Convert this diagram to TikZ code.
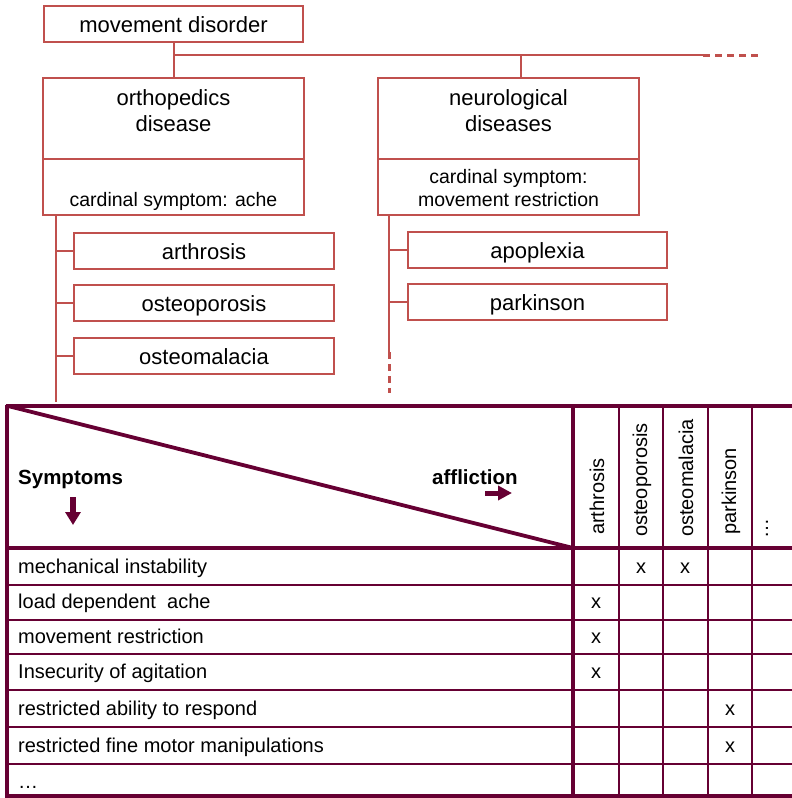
\documentclass[tikz,border=0pt]{standalone}
\usepackage{fontspec}
\setmainfont{Liberation Sans}
\usetikzlibrary{arrows.meta}
\definecolor{treered}{RGB}{192,80,77}
\definecolor{maroon}{RGB}{102,0,51}
\begin{document}
\begin{tikzpicture}[x=1pt,y=-1pt,
  box/.style={draw=treered, line width=2pt, minimum width=#1, minimum height=36pt, inner sep=0pt, text height=17.5pt, text depth=0pt, font=\fontsize{22}{26}\selectfont},
  box/.default=260pt,
  frame/.style={draw=treered, line width=2pt, minimum width=261pt, minimum height=#1, inner sep=0pt},
  tline/.style={draw=treered, line width=2pt},
  tdash/.style={draw=treered, line width=3pt, dash pattern=on 7pt off 5pt},
  big/.style={font=\fontsize{22}{26}\selectfont, align=center, inner sep=0pt},
  small/.style={font=\fontsize{19.5}{23}\selectfont, align=center, inner sep=0pt},
  tab/.style={font=\fontsize{20}{24}\selectfont, inner sep=0pt, text height=13pt, text depth=0pt},
  rot/.style={font=\fontsize{20}{24}\selectfont, inner sep=0pt, rotate=90},
  tabbold/.style={font=\fontsize{20.5}{24}\selectfont\bfseries, inner sep=0pt, text height=13.3pt, text depth=0pt},
  thickl/.style={draw=maroon, line width=3.8pt},
  thinl/.style={draw=maroon, line width=2.3pt},
  arr/.style={draw=maroon, line width=6pt, -{Triangle[width=15pt,length=13pt]}}
]
\useasboundingbox (0,0) rectangle (792,798);

% ---------- tree ----------
\node[box=259pt] (md) at (173.5,24) {movement disorder};

\node[frame=81pt] (ortho) at (173.5,118.5) {};
\node[big] (orthot) at (173.5,110.5) {orthopedics\\disease};
\node[frame=56pt] (orthoc) at (173.5,187) {};
\node[small, text height=15pt, text depth=0pt] (orthoct) at (173.5,199) {cardinal symptom: ache};

\node[frame=81pt] (neuro) at (508.5,118.5) {};
\node[big] (neurot) at (508.5,110.5) {neurological\\diseases};
\node[frame=56pt] (neuroc) at (508.5,187) {};
\node[small] (neuroct) at (508.5,188.5) {cardinal symptom:\\movement restriction};

\node[box=260pt] (arth) at (204,251) {arthrosis};
\node[box=260pt] (osp) at (204,303) {osteoporosis};
\node[box=260pt] (osm) at (204,356) {osteomalacia};
\node[box=259pt] (apo) at (537.5,250) {apoplexia};
\node[box=259pt] (park) at (537.5,302) {parkinson};

\coordinate (hj) at (173.5,55);
\coordinate (hn) at (521,55);
\coordinate (hend) at (703,55);
\coordinate (hdash) at (760,55);
\draw[tline] (md.south) -- (ortho.north);
\draw[tline] (hj) -- (hend);
\draw[tdash] (hend) -- (hdash);
\draw[tline] (hn) -- (hn |- neuro.north);

\coordinate (lt) at (56,215);
\coordinate (lb) at (56,402);
\draw[tline] (lt) -- (lb);
\draw[tline] (lt |- arth.west) -- (arth.west);
\draw[tline] (lt |- osp.west) -- (osp.west);
\draw[tline] (lt |- osm.west) -- (osm.west);

\coordinate (rt) at (389,215);
\coordinate (rm) at (389,352);
\coordinate (rb) at (389,393);
\draw[tline] (rt) -- (rm);
\draw[tdash] (rm) -- (rb);
\draw[tline] (rt |- apo.west) -- (apo.west);
\draw[tline] (rt |- park.west) -- (park.west);

% ---------- table ----------
\foreach \y in {585,620,654,690,727,764} \draw[thinl] (7,\y) -- (792,\y);
\foreach \x in {619,663,708,752} \draw[thinl] (\x,406) -- (\x,797);
\draw[thickl] (573,406) -- (573,797);
\draw[thickl] (5.5,406) -- (792,406);
\draw[thickl] (7,548) -- (792,548);
\draw[thickl] (7,796) -- (792,796);
\draw[thickl] (7,404.5) -- (7,798);
\draw[thickl] (8,406) -- (573,548);

\node[tabbold, anchor=west] (sym) at (18,478) {Symptoms};
\node[tabbold, anchor=west] (aff) at (432,478) {affliction};
\coordinate (da1) at (73,497);
\coordinate (da2) at (73,525);
\draw[arr] (da1) -- (da2);
\coordinate (ra1) at (485,493);
\coordinate (ra2) at (512,493);
\draw[arr, line width=5pt, -{Triangle[width=14pt,length=14pt]}] (ra1) -- (ra2);

\node[rot, anchor=west] (c1) at (597,535) {arthrosis};
\node[rot, anchor=west] (c2) at (642,537) {osteoporosis};
\node[rot, anchor=west] (c3) at (686,537) {osteomalacia};
\node[rot, anchor=west] (c4) at (731,535) {parkinson};
\node[rot, anchor=base west] (c5) at (768,539) {…};

\node[tab, anchor=west] (r1) at (18,567) {mechanical instability};
\node[tab, anchor=west] (r2) at (18,602) {load dependent\ \ ache};
\node[tab, anchor=west] (r3) at (18,637) {movement restriction};
\node[tab, anchor=west] (r4) at (18,672) {Insecurity of agitation};
\node[tab, anchor=west] (r5) at (18,709) {restricted ability to respond};
\node[tab, anchor=west] (r6) at (18,746) {restricted fine motor manipulations};
\node[rot, rotate=-90, anchor=base west] (r7) at (18,788) {…};

\node[tab] (x1) at (641,567) {x};
\node[tab] (x2) at (685,567) {x};
\node[tab] (x3) at (596,602) {x};
\node[tab] (x4) at (596,637) {x};
\node[tab] (x5) at (596,672) {x};
\node[tab] (x6) at (730,709) {x};
\node[tab] (x7) at (730,746) {x};
\end{tikzpicture}
\end{document}
